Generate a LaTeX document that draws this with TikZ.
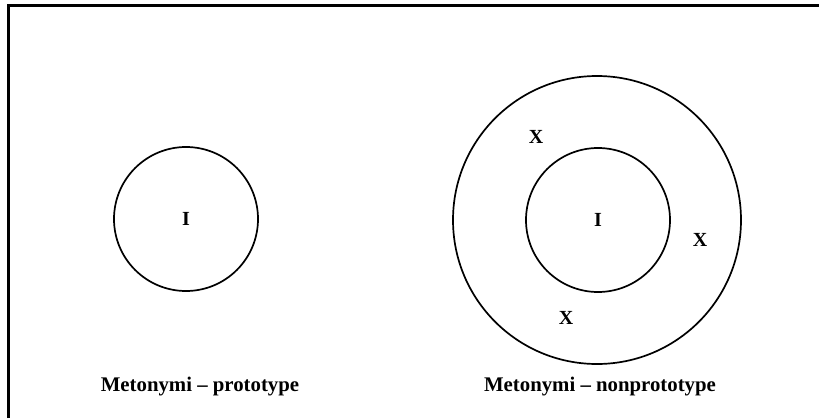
\documentclass[tikz,border=0pt]{standalone}
\usepackage{fontspec}
\setmainfont{Liberation Serif}
\usetikzlibrary{positioning}

\begin{document}
\begin{tikzpicture}[
    x=1pt,
    y=-1pt,
    ring/.style={
        circle,
        draw,
        line width=1.7pt,
        inner sep=0pt
      },
    tag/.style={
        font=\fontsize{20}{24}\selectfont\bfseries,
        inner sep=0pt
      },
    caption/.style={
        font=\fontsize{20.8}{24}\selectfont\bfseries,
        inner sep=0pt
      }
    ]

    \useasboundingbox (0,0) rectangle (819,418);
    \draw[line width=2.2pt] (8.5,418) -- (8.5,5.5) -- (819,5.5);

    % left picture
    \node[ring,minimum size=144pt] (proto) at (186,219) {};
    \node[tag] (protoI) at (proto.center) {I};
    \node[caption] (protocap) at (200,387) {Metonymi – prototype};

    % right picture
    \node[ring,minimum size=288pt] (outer) at (597,220) {};
    \node[ring,minimum size=144pt] (inner) at (598,220) {};
    \node[tag] (innerI) at (inner.center) {I};
    \node[tag] (x1) at (536,137) {X};
    \node[tag] (x2) at (700,240) {X};
    \node[tag] (x3) at (566,318) {X};
    \node[caption] (outercap) at (600,387) {Metonymi – nonprototype};

  \end{tikzpicture}
\end{document}
